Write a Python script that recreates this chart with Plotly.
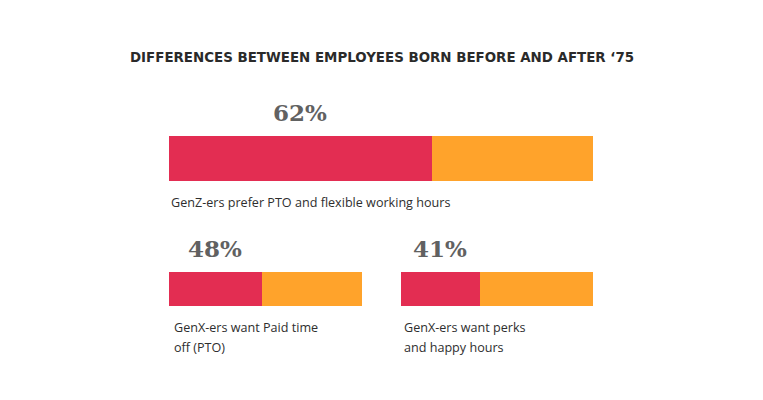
import plotly.graph_objects as go

title = "DIFFERENCES BETWEEN EMPLOYEES BORN BEFORE AND AFTER \u201875"
shares = [62, 48, 41]
labels = ["62%", "48%", "41%"]
captions = [
    ["GenZ-ers prefer PTO and flexible working hours"],
    ["GenX-ers want Paid time", "off (PTO)"],
    ["GenX-ers want perks", "and happy hours"],
]

RED = "#E32D52"
ORANGE = "#FFA32B"
OFF = 8  # page body margin
W, H = 763 - OFF, 400 - OFF

# panel geometry in page pixels (left, right, top, bottom)
panels = [(169, 593, 136, 181), (169, 362, 272, 306), (401, 593, 272, 306)]
cap_x = [169, 172, 402]
cap_y0 = [202, 327, 327]


def px(x):
    return (x - OFF) / W


def py(y):
    return 1 - (y - OFF) / H


fig = go.Figure()
layout = dict(
    width=W, height=H, autosize=False,
    margin=dict(l=0, r=0, t=0, b=0),
    paper_bgcolor="white", plot_bgcolor="white",
    showlegend=False, barmode="stack", bargap=0,
)
annotations = []
for i, (v, lab, caps, (l, r, t, b)) in enumerate(zip(shares, labels, captions, panels)):
    sfx = "" if i == 0 else str(i + 1)
    xa, ya = "x" + sfx, "y" + sfx
    fig.add_trace(go.Bar(x=[v], y=[0], orientation="h", marker=dict(color=RED, line=dict(width=0)),
                         xaxis=xa, yaxis=ya, width=1, hoverinfo="skip"))
    fig.add_trace(go.Bar(x=[100 - v], y=[0], orientation="h", marker=dict(color=ORANGE, line=dict(width=0)),
                         xaxis=xa, yaxis=ya, width=1, hoverinfo="skip"))
    layout["xaxis" + sfx] = dict(domain=[px(l), px(r)], range=[0, 100], visible=False,
                                 anchor=ya, fixedrange=True)
    layout["yaxis" + sfx] = dict(domain=[py(b), py(t)], range=[-0.5, 0.5], visible=False,
                                 anchor=xa, fixedrange=True)
    annotations.append(dict(
        text=f"<b>{lab}</b>", xref=xa, x=v / 2, yref=ya + " domain", y=1,
        xanchor="center", yanchor="bottom", yshift=8, showarrow=False,
        font=dict(family="DejaVu Serif", size=23, color="#616161"),
    ))
    for j, line in enumerate(caps):
        annotations.append(dict(
            text=line, xref="paper", x=px(cap_x[i]), yref="paper", y=py(cap_y0[i] + 20 * j),
            xanchor="left", yanchor="middle", showarrow=False,
            font=dict(family="Open Sans", size=12.6, color="#2e2e2e"),
        ))

annotations.append(dict(
    text=title, xref="paper", x=px(381.5), yref="paper", y=py(58),
    xanchor="center", yanchor="middle", showarrow=False,
    font=dict(family="DejaVu Sans", size=13.4, color="#2a2a2a", weight="bold"),
))
layout["annotations"] = annotations
fig.update_layout(**layout)
fig.write_html("out.html")
